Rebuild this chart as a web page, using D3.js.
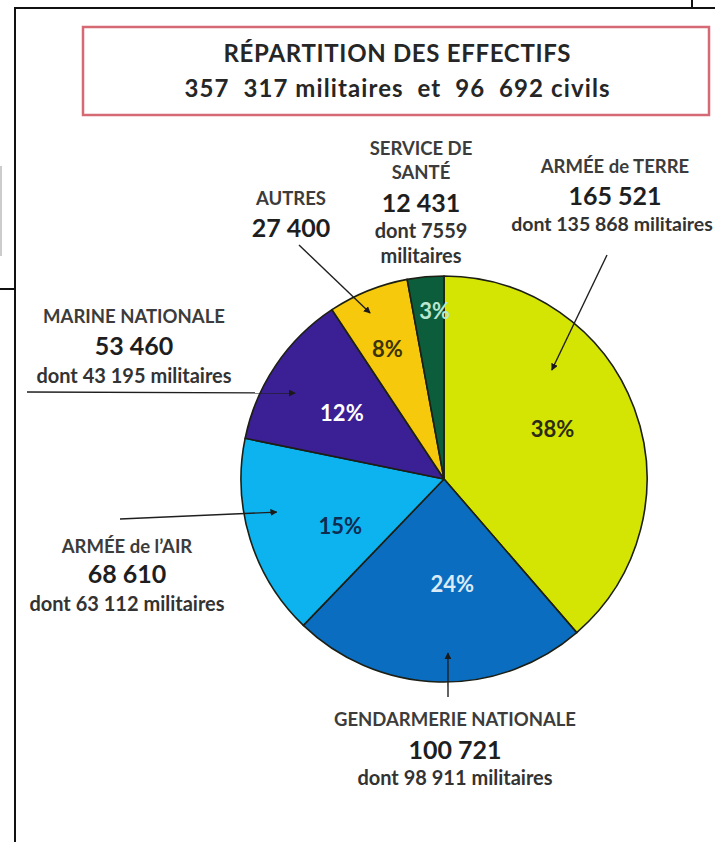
<!DOCTYPE html>
<html><head><meta charset="utf-8">
<script src="https://cdn.jsdelivr.net/npm/d3@7/dist/d3.min.js"></script>
<style>
body{margin:0;background:#fff}
svg{display:block}
text{font-family:Lato,'Open Sans',sans-serif;font-weight:700;white-space:pre}
</style>
</head><body>
<svg id="chart" width="715" height="842"></svg>
<script>
// ---- data ----
const titleLines = ["RÉPARTITION DES EFFECTIFS", "357  317 militaires  et  96  692 civils"];
const categories = ["ARMÉE de TERRE", "GENDARMERIE NATIONALE", "ARMÉE de l'AIR", "MARINE NATIONALE", "AUTRES", "SERVICE DE SANTÉ"];
const categoryLines = [["ARMÉE de TERRE"], ["GENDARMERIE NATIONALE"], ["ARMÉE de l\u2019AIR"], ["MARINE NATIONALE"], ["AUTRES"], ["SERVICE DE", "SANTÉ"]];
const totals = [165521, 100721, 68610, 53460, 27400, 12431];
const militaires = [135868, 98911, 63112, 43195, null, 7559];
const percentLabels = ["38%", "24%", "15%", "12%", "8%", "3%"];
const colors = ["#d5e503", "#0b6dbf", "#0db3ef", "#3b1f94", "#f6c90c", "#0b5d3b"];
const pctColors = ["#2b2b14", "#dbeaf7", "#0d2c52", "#ffffff", "#3b3305", "#b9e6cf"];

// ---- layout (positions / styles) ----
const W = 715, H = 842;
const cx = 444, cy = 479, R = 203;
const pctRadius = [0.59, 0.52, 0.56, 0.60, 0.70, 0.83];
const pctAngleShift = [-4.5, -6, -7, -1, -1.5, 2];
const titleWidths = [347, 425];
// label blocks: anchor x and baselines for [name lines..., number, sub lines...]
const labelBlocks = [
  {x: 615, y: [173, 205, 231], sub: "one", subX: 612, subSize: 19.5},
  {x: 455, y: [726, 759, 785], sub: "one"},
  {x: 127, y: [553, 583, 611], sub: "one"},
  {x: 134, y: [323, 355, 383], sub: "one"},
  {x: 291, y: [205, 237], sub: "none"},
  {x: 421, y: [155, 179, 212, 238, 263], sub: "two"}
];
// leader lines: start point near label, tip given in polar coords on the pie
const leaders = [
  {from: [607, 255], angle: 44.7, r: 0.755},
  {from: [448, 697], angle: 178.7, r: 0.857},
  {from: [120, 519], angle: 258.8, r: 0.84},
  {from: [27, 392], angle: 300, r: 0.847},
  {from: [299, 245], angle: 336, r: 0.895},
  null
];

const svg = d3.select("#chart");
const fr = d3.formatLocale({decimal: ",", thousands: "\u00a0", grouping: [3]});
const fmt = v => v >= 10000 ? fr.format(",")(v) : String(v);

// frame artifacts of the scanned page
const frame = svg.append("g").attr("stroke", "#111").attr("stroke-width", 2);
frame.append("line").attr("x1", 14).attr("y1", 8).attr("x2", W).attr("y2", 8);
frame.append("line").attr("x1", 15).attr("y1", 7).attr("x2", 15).attr("y2", H);
frame.append("line").attr("x1", 0).attr("y1", 289).attr("x2", 15).attr("y2", 289);
frame.append("line").attr("x1", 692).attr("y1", 0).attr("x2", 692).attr("y2", 8);
svg.append("line").attr("x1", 1).attr("y1", 166).attr("x2", 1).attr("y2", 256)
  .attr("stroke", "#bbb").attr("stroke-width", 1.5);

// title box
svg.append("rect").attr("x", 83).attr("y", 27).attr("width", 626).attr("height", 88)
  .attr("fill", "#fff").attr("stroke", "#d66a74").attr("stroke-width", 2.5);
[62, 97].forEach((y, i) => {
  svg.append("text").attr("x", 397).attr("y", y).attr("text-anchor", "middle")
    .attr("font-size", 24).attr("fill", "#262626")
    .attr("textLength", titleWidths[i]).attr("lengthAdjust", "spacing")
    .text(titleLines[i]);
});

// pie
const pie = d3.pie().sort(null).value(d => d)(totals);
const arc = d3.arc().innerRadius(0).outerRadius(R);
const g = svg.append("g").attr("transform", `translate(${cx},${cy})`);
g.selectAll("path").data(pie).join("path")
  .attr("d", arc)
  .attr("fill", (d, i) => colors[i])
  .attr("stroke", "#1c1f14").attr("stroke-width", 1.6).attr("stroke-linejoin", "round");

const polar = (angDeg, rad) => {
  const a = angDeg * Math.PI / 180;
  return [rad * Math.sin(a), -rad * Math.cos(a)];
};
g.selectAll("text.pct").data(pie).join("text").attr("class", "pct")
  .attr("text-anchor", "middle")
  .attr("font-size", 22)
  .attr("fill", (d, i) => pctColors[i])
  .attr("transform", (d, i) => {
    const mid = (d.startAngle + d.endAngle) / 2 * 180 / Math.PI + pctAngleShift[i];
    const p = polar(mid, R * pctRadius[i]);
    return `translate(${p[0]},${p[1] + 8})`;
  })
  .text((d, i) => percentLabels[i]);

// arrow marker
svg.append("defs").append("marker").attr("id", "arr")
  .attr("viewBox", "0 0 10 10").attr("refX", 9).attr("refY", 5)
  .attr("markerWidth", 7).attr("markerHeight", 7).attr("markerUnits", "userSpaceOnUse")
  .attr("orient", "auto")
  .append("path").attr("d", "M0,0L10,5L0,10z").attr("fill", "#1a1a1a");

leaders.forEach(l => {
  if (!l) return;
  const t = polar(l.angle, R * l.r);
  svg.append("line").attr("x1", l.from[0]).attr("y1", l.from[1])
    .attr("x2", cx + t[0]).attr("y2", cy + t[1])
    .attr("stroke", "#1f1f1f").attr("stroke-width", 1.4)
    .attr("marker-end", "url(#arr)");
});

// labels
const labels = svg.append("g").attr("text-anchor", "middle");
categories.forEach((c, i) => {
  const b = labelBlocks[i];
  const nameLines = categoryLines[i];
  let k = 0;
  nameLines.forEach(t => {
    labels.append("text").attr("x", b.x).attr("y", b.y[k++])
      .attr("font-size", 18.5).attr("fill", "#3c3c3c").text(t);
  });
  labels.append("text").attr("x", b.x).attr("y", b.y[k++])
    .attr("font-size", 25).attr("fill", "#1e1e1e").text(fmt(totals[i]));
  if (militaires[i] != null) {
    const subs = b.sub === "two" ? ["dont " + fmt(militaires[i]), "militaires"]
                                 : ["dont " + fmt(militaires[i]) + " militaires"];
    subs.forEach(t => {
      labels.append("text").attr("x", b.subX || b.x).attr("y", b.y[k++])
        .attr("font-size", b.subSize || 20).attr("fill", "#333").text(t);
    });
  }
});
</script>
</body></html>
